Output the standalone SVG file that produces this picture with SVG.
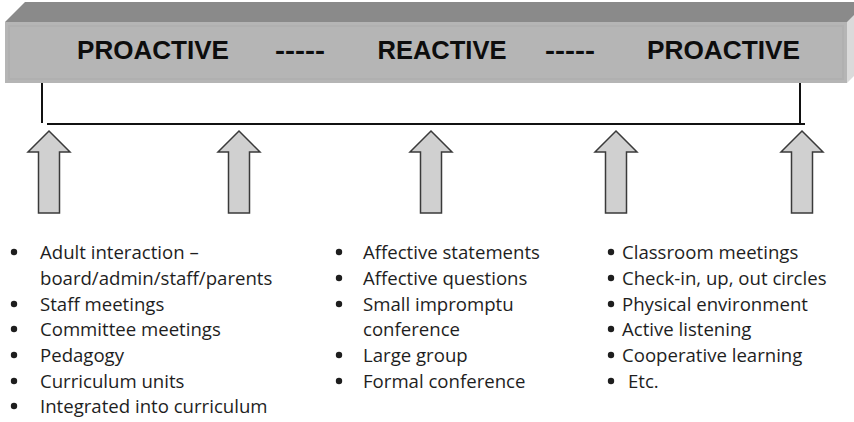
<svg xmlns="http://www.w3.org/2000/svg" width="854" height="422" viewBox="0 0 854 422">
  <defs>
    <style>
      .hdr { font-family: "Liberation Sans", Arial, sans-serif; font-weight: bold; font-size: 26px; fill: #0d0d0d; }
      .item { font-family: "Open Sans", "Liberation Sans", sans-serif; font-size: 18.6px; fill: #1e1e1e; }
      .arrow { fill: #d0d0d0; stroke: #3a3a3a; stroke-width: 1.5; stroke-linejoin: miter; }
      .conn { stroke: #111; stroke-width: 2; fill: none; }
      .dot { fill: #1e1e1e; }
    </style>
    <path id="uparrow" d="M0,0 L21,21 L10.5,21 L10.5,82 L-10.5,82 L-10.5,21 L-21,21 Z"/>
  </defs>
  <rect width="854" height="422" fill="#ffffff"/>

  <g id="bar">
    <polygon points="5,22 25,2 874,2 854,22" fill="#8a8a8a"/>
    <polygon points="847,22 867,2 867,63 847,83" fill="#dadada"/>
    <rect x="5" y="22" width="842" height="61" fill="#b5b5b5"/>
    <rect x="9" y="26" width="834" height="53" fill="none" stroke="#b0b0b0" stroke-width="2"/>
    <text class="hdr" x="77" y="59" textLength="152" lengthAdjust="spacingAndGlyphs">PROACTIVE</text>
    <text class="hdr" x="275" y="59" textLength="50" lengthAdjust="spacingAndGlyphs">-----</text>
    <text class="hdr" x="377.5" y="59" textLength="129" lengthAdjust="spacingAndGlyphs">REACTIVE</text>
    <text class="hdr" x="545" y="59" textLength="50" lengthAdjust="spacingAndGlyphs">-----</text>
    <text class="hdr" x="647" y="59" textLength="153" lengthAdjust="spacingAndGlyphs">PROACTIVE</text>
  </g>

  <g id="connectors">
    <line class="conn" x1="42" y1="83" x2="42" y2="123"/>
    <line class="conn" x1="47" y1="124" x2="805" y2="124"/>
    <line class="conn" x1="800" y1="83" x2="800" y2="125"/>
  </g>

  <g id="arrow1"><use href="#uparrow" class="arrow" x="49" y="131"/></g>
  <g id="arrow2"><use href="#uparrow" class="arrow" x="239" y="131"/></g>
  <g id="arrow3"><use href="#uparrow" class="arrow" x="431" y="131"/></g>
  <g id="arrow4"><use href="#uparrow" class="arrow" x="616" y="131"/></g>
  <g id="arrow5"><use href="#uparrow" class="arrow" x="802" y="131"/></g>

  <g id="list-left">
    <circle class="dot" cx="14" cy="252" r="3.2"/>
    <text class="item" x="40" y="259">Adult interaction –</text>
    <text class="item" x="40" y="285">board/admin/staff/parents</text>
    <circle class="dot" cx="14" cy="304" r="3.2"/>
    <text class="item" x="40" y="311">Staff meetings</text>
    <circle class="dot" cx="14" cy="329" r="3.2"/>
    <text class="item" x="40" y="336">Committee meetings</text>
    <circle class="dot" cx="14" cy="355" r="3.2"/>
    <text class="item" x="40" y="362">Pedagogy</text>
    <circle class="dot" cx="14" cy="381" r="3.2"/>
    <text class="item" x="40" y="388">Curriculum units</text>
    <circle class="dot" cx="14" cy="406" r="3.2"/>
    <text class="item" x="40" y="413">Integrated into curriculum</text>
  </g>

  <g id="list-middle">
    <circle class="dot" cx="339" cy="252" r="3.2"/>
    <text class="item" x="363" y="259">Affective statements</text>
    <circle class="dot" cx="339" cy="278" r="3.2"/>
    <text class="item" x="363" y="285">Affective questions</text>
    <circle class="dot" cx="339" cy="304" r="3.2"/>
    <text class="item" x="363" y="311">Small impromptu</text>
    <text class="item" x="363" y="336">conference</text>
    <circle class="dot" cx="339" cy="355" r="3.2"/>
    <text class="item" x="363" y="362">Large group</text>
    <circle class="dot" cx="339" cy="381" r="3.2"/>
    <text class="item" x="363" y="388">Formal conference</text>
  </g>

  <g id="list-right">
    <circle class="dot" cx="611" cy="252" r="3.2"/>
    <text class="item" x="622" y="259">Classroom meetings</text>
    <circle class="dot" cx="611" cy="278" r="3.2"/>
    <text class="item" x="622" y="285">Check-in, up, out circles</text>
    <circle class="dot" cx="611" cy="304" r="3.2"/>
    <text class="item" x="622" y="311">Physical environment</text>
    <circle class="dot" cx="611" cy="329" r="3.2"/>
    <text class="item" x="622" y="336">Active listening</text>
    <circle class="dot" cx="611" cy="355" r="3.2"/>
    <text class="item" x="622" y="362">Cooperative learning</text>
    <circle class="dot" cx="611" cy="381" r="3.2"/>
    <text class="item" x="628" y="388">Etc.</text>
  </g>
</svg>
